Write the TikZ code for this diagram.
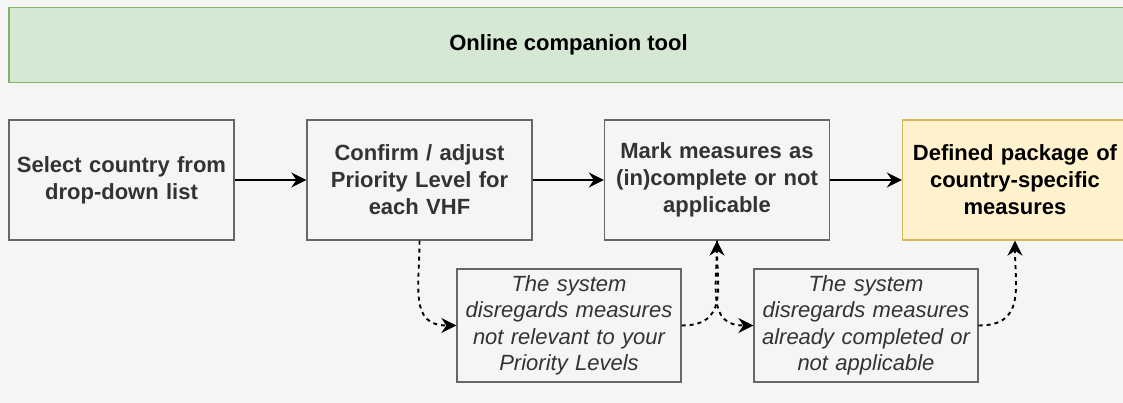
\documentclass[tikz,border=0pt]{standalone}
\usepackage{fontspec}
\setmainfont{Liberation Sans}
\usetikzlibrary{arrows.meta}

\definecolor{bggray}{HTML}{F5F5F5}
\definecolor{boxline}{HTML}{666666}
\definecolor{boxtext}{HTML}{333333}
\definecolor{bannerfill}{HTML}{D5E8D4}
\definecolor{bannerline}{HTML}{82B366}
\definecolor{goalfill}{HTML}{FFF2CC}
\definecolor{goalline}{HTML}{D6B656}

\begin{document}
\begin{tikzpicture}[x=1pt, y=-1pt,
  stepbox/.style={draw=boxline, fill=bggray, line width=1.3pt,
    minimum width=225pt, minimum height=120pt, text width=215pt,
    align=center, text=boxtext, font=\fontsize{22}{27}\selectfont\bfseries},
  goalbox/.style={stepbox, draw=goalline, fill=goalfill, text=black},
  notebox/.style={draw=boxline, fill=bggray, line width=1.3pt,
    minimum width=224pt, minimum height=113pt, text width=215pt,
    align=center, text=boxtext, font=\fontsize{22}{26.5}\selectfont\itshape},
  flow/.style={line width=1.9pt, -{Stealth[length=15pt,width=15pt,inset=5pt]}},
  skip/.style={flow, dash pattern=on 4pt off 4pt}]
  % canvas
  \fill[bggray] (0,0) rectangle (1123,403);
  \useasboundingbox (0,0) rectangle (1123,403);

  % banner
  \node[draw=bannerline, fill=bannerfill, line width=1.3pt,
    minimum width=1119pt, minimum height=75pt,
    font=\fontsize{22}{27}\selectfont\bfseries] (banner) at (568.5,45)
    {Online companion tool};

  % main steps
  \node[stepbox] (select)  at (121.5,180) {Select country from\\drop-down list};
  \node[stepbox] (confirm) at (419.5,180) {Confirm / adjust\\Priority Level for\\each VHF};
  \node[stepbox] (mark)    at (717,180)   {Mark measures as\\(in)complete or not\\applicable};
  \node[goalbox] (package) at (1015,180)  {Defined package of\\country-specific\\measures};

  % system notes
  \node[notebox] (skipprio) at (569,325.5) {The system\\disregards measures\\not relevant to your\\Priority Levels};
  \node[notebox] (skipdone) at (866,325.5) {The system\\disregards measures\\already completed or\\not applicable};

  % flow
  \draw[flow] (select) -- (confirm);
  \draw[flow] (confirm) -- (mark);
  \draw[flow] (mark) -- (package);

  % dashed side paths
  \draw[skip] (confirm.south) to[out=-90, in=180, looseness=1.3] (skipprio.west);
  \draw[skip] (skipprio.east) to[out=0, in=-90, looseness=1.3] (mark.south);
  \draw[skip] (mark.south) to[out=-90, in=180, looseness=1.3] (skipdone.west);
  \draw[skip] (skipdone.east) to[out=0, in=-90, looseness=1.3] (package.south);
\end{tikzpicture}
\end{document}
